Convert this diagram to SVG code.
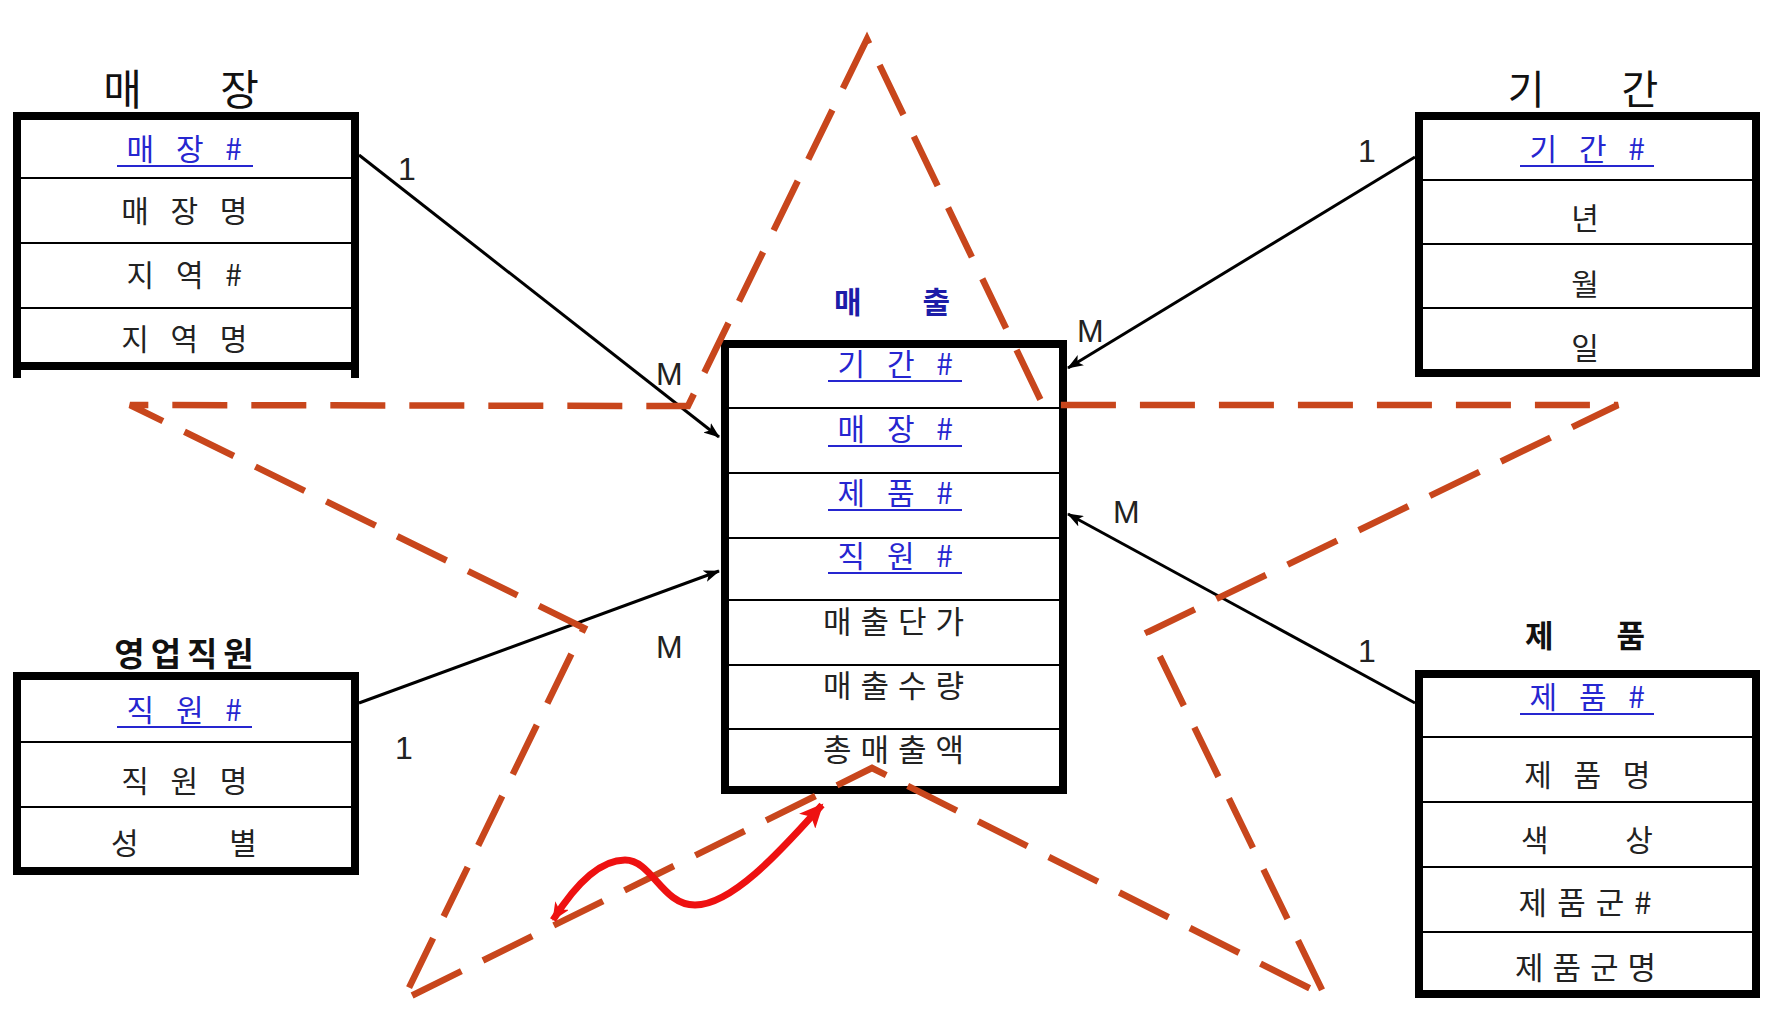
<svg xmlns="http://www.w3.org/2000/svg" width="1779" height="1027" viewBox="0 0 1779 1027">
<defs>
<marker id="ah" markerUnits="userSpaceOnUse" markerWidth="16" markerHeight="12" refX="15" refY="6" orient="auto">
<path d="M0,0 L16,6 L0,12 L4,6 z" fill="#000"/>
</marker>
<marker id="rah" markerUnits="userSpaceOnUse" markerWidth="26" markerHeight="22" refX="22" refY="11" orient="auto">
<path d="M0,0 L24,11 L0,22 L6,11 z" fill="#ee1111"/>
</marker>
<marker id="rah0" markerUnits="userSpaceOnUse" markerWidth="20" markerHeight="16" refX="17" refY="8" orient="auto-start-reverse">
<path d="M0,0 L18,8 L0,16 L5,8 z" fill="#ee1111"/>
</marker>
</defs>
<style>
.box{fill:#fff;stroke:#000;stroke-width:8}
.sep{stroke:#000;stroke-width:2}
.t{font-family:"Noto Sans CJK KR","Noto Sans CJK SC",sans-serif;fill:#222;text-anchor:middle}
.f{font-size:30px;letter-spacing:7.5px}
.k{fill:#2626d0}
.ttl{font-family:"Noto Sans CJK KR",sans-serif;fill:#111;text-anchor:middle}
.b{font-weight:bold}
.ul{stroke:#2626d0;stroke-width:2}
.lbl{font-family:"Liberation Sans",Arial,sans-serif;font-size:32px;fill:#222}
.conn{stroke:#000;stroke-width:3;fill:none;marker-end:url(#ah)}
.star{fill:none;stroke:#c8461c;stroke-width:6.5;stroke-dasharray:55 24}
</style>
<rect width="1779" height="1027" fill="#fff"/>

<g id="store">
<text class="ttl" x="181" y="105" font-size="42" word-spacing="69">매 장</text>
<rect class="box" x="17" y="116" width="338" height="250"/>
<rect x="13" y="366" width="8" height="12" fill="#000"/>
<rect x="351" y="366" width="8" height="12" fill="#000"/>
<line class="sep" x1="21" y1="178" x2="351" y2="178"/>
<line class="sep" x1="21" y1="243" x2="351" y2="243"/>
<line class="sep" x1="21" y1="308" x2="351" y2="308"/>
<text class="t f k" x="188" y="160">매 장 #</text>
<line class="ul" x1="117" y1="166" x2="253" y2="166"/>
<text class="t f" x="188" y="222">매 장 명</text>
<text class="t f" x="188" y="286">지 역 #</text>
<text class="t f" x="188" y="350">지 역 명</text>
</g>

<g id="period">
<text class="ttl" x="1583" y="104" font-size="40" word-spacing="68">기 간</text>
<rect class="box" x="1419" y="116" width="337" height="257"/>
<line class="sep" x1="1423" y1="180" x2="1752" y2="180"/>
<line class="sep" x1="1423" y1="244" x2="1752" y2="244"/>
<line class="sep" x1="1423" y1="308" x2="1752" y2="308"/>
<text class="t f k" x="1591" y="160">기 간 #</text>
<line class="ul" x1="1520" y1="166" x2="1654" y2="166"/>
<text class="t" x="1585" y="229" font-size="30">년</text>
<text class="t" x="1585" y="295" font-size="30">월</text>
<text class="t" x="1585" y="359" font-size="30">일</text>
</g>

<g id="sales">
<text class="ttl b" x="892" y="313" font-size="30" word-spacing="54" style="fill:#1c1ca8">매 출</text>
<rect class="box" x="725" y="344" width="338" height="446"/>
<line class="sep" x1="729" y1="408" x2="1059" y2="408"/>
<line class="sep" x1="729" y1="473" x2="1059" y2="473"/>
<line class="sep" x1="729" y1="538" x2="1059" y2="538"/>
<line class="sep" x1="729" y1="600" x2="1059" y2="600"/>
<line class="sep" x1="729" y1="665" x2="1059" y2="665"/>
<line class="sep" x1="729" y1="729" x2="1059" y2="729"/>
<text class="t f k" x="899" y="375">기 간 #</text>
<line class="ul" x1="828" y1="381" x2="962" y2="381"/>
<text class="t f k" x="899" y="440">매 장 #</text>
<line class="ul" x1="828" y1="446" x2="962" y2="446"/>
<text class="t f k" x="899" y="504">제 품 #</text>
<line class="ul" x1="828" y1="510" x2="962" y2="510"/>
<text class="t f k" x="899" y="567">직 원 #</text>
<line class="ul" x1="828" y1="573" x2="962" y2="573"/>
<text class="t" x="898" y="633" font-size="31" letter-spacing="9">매출단가</text>
<text class="t" x="898" y="697" font-size="31" letter-spacing="9">매출수량</text>
<text class="t" x="898" y="761" font-size="31" letter-spacing="9">총매출액</text>
</g>

<g id="employee">
<text class="ttl b" x="187" y="666" font-size="33" letter-spacing="6">영업직원</text>
<rect class="box" x="17" y="676" width="338" height="195"/>
<line class="sep" x1="21" y1="742" x2="351" y2="742"/>
<line class="sep" x1="21" y1="807" x2="351" y2="807"/>
<text class="t f k" x="188" y="721">직 원 #</text>
<line class="ul" x1="117" y1="727" x2="252" y2="727"/>
<text class="t f" x="188" y="792">직 원 명</text>
<text class="t" x="184" y="854" font-size="30" word-spacing="84">성 별</text>
</g>

<g id="product">
<text class="ttl b" x="1585" y="647" font-size="31" word-spacing="56">제 품</text>
<rect class="box" x="1419" y="674" width="337" height="320"/>
<line class="sep" x1="1423" y1="737" x2="1752" y2="737"/>
<line class="sep" x1="1423" y1="802" x2="1752" y2="802"/>
<line class="sep" x1="1423" y1="867" x2="1752" y2="867"/>
<line class="sep" x1="1423" y1="932" x2="1752" y2="932"/>
<text class="t f k" x="1591" y="708">제 품 #</text>
<line class="ul" x1="1520" y1="714" x2="1654" y2="714"/>
<text class="t f" x="1591" y="786">제 품 명</text>
<text class="t" x="1587" y="851" font-size="30" word-spacing="70">색 상</text>
<text class="t" x="1590" y="914" font-size="31" letter-spacing="10">제품군#</text>
<text class="t" x="1590" y="979" font-size="31" letter-spacing="9">제품군명</text>
</g>

<g id="connectors">
<line class="conn" x1="359" y1="155" x2="719" y2="437"/>
<line class="conn" x1="1415" y1="157" x2="1068" y2="368"/>
<line class="conn" x1="359" y1="703" x2="719" y2="571"/>
<line class="conn" x1="1415" y1="703" x2="1068" y2="514"/>
<text class="lbl" x="398" y="180">1</text>
<text class="lbl" x="656" y="385">M</text>
<text class="lbl" x="1358" y="162">1</text>
<text class="lbl" x="1077" y="342">M</text>
<text class="lbl" x="656" y="658">M</text>
<text class="lbl" x="395" y="759">1</text>
<text class="lbl" x="1113" y="523">M</text>
<text class="lbl" x="1358" y="662">1</text>
</g>

<g id="star">
<polygon class="star" points="867,39 688,406 130,405 584,628 403,1000 872,768 1325,996 1148,632 1618,405 1043,405"/>
</g>

<g id="red-arrow">
<path d="M553,920 C575,885 600,860 625,860 C652,860 662,905 695,905 C735,905 790,840 822,805" fill="none" stroke="#ee1111" stroke-width="7" marker-end="url(#rah)" marker-start="url(#rah0)"/>
</g>
</svg>
